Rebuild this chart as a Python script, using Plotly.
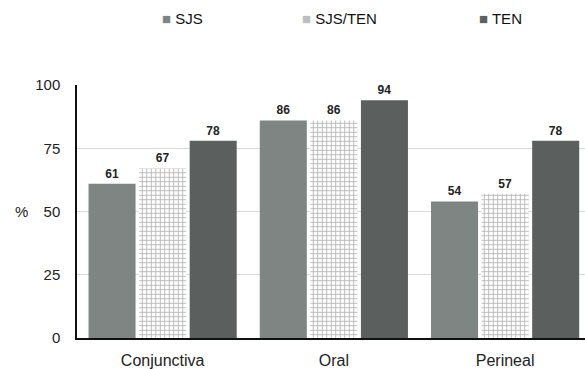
import plotly.graph_objects as go

# Mucosal involvement by diagnosis (%)
categories = ["Conjunctiva", "Oral", "Perineal"]
series_names = ["SJS", "SJS/TEN", "TEN"]
sjs = [61, 86, 54]
sjs_ten = [67, 86, 57]
ten = [78, 94, 78]
y_ticks = [0, 25, 50, 75, 100]

FONT = "Liberation Sans, Arial, sans-serif"
colors = ["#7f8582", "#ffffff", "#5b5f5d"]
legend_colors = ["#7f8582", "#bdbdbd", "#5b5f5d"]

fig = go.Figure()
for name, vals, col in zip(series_names, [sjs, sjs_ten, ten], colors):
    marker = dict(color=col, line=dict(width=0))
    if name == "SJS/TEN":
        marker["pattern"] = dict(shape="+", size=4.5, solidity=0.35,
                                 fgcolor="#b4b4b4", bgcolor="#ffffff",
                                 fillmode="replace")
    fig.add_trace(go.Bar(
        x=categories, y=vals, name=name, marker=marker,
        text=vals, textposition="outside", cliponaxis=False,
        textfont=dict(family=FONT, size=12, color="#222222", weight="bold"),
        showlegend=False,
    ))

# Legend row drawn as text entries with a coloured square
legend_x = [0.163, 0.439, 0.787]
for name, col, lx in zip(series_names, legend_colors, legend_x):
    fig.add_annotation(
        xref="paper", yref="paper", x=lx, y=1.263,
        xanchor="left", yanchor="middle", showarrow=False,
        text=f"<span style='color:{col}'>■</span> {name}",
        font=dict(family=FONT, size=15, color="#111111"),
    )

# Axis title set horizontally beside the value ticks
fig.add_annotation(
    xref="paper", yref="paper", x=-0.11, y=0.5,
    xanchor="center", yanchor="middle", showarrow=False,
    text="%", font=dict(family=FONT, size=15, color="#222222"),
)

fig.update_layout(
    width=585, height=369,
    margin=dict(l=77, r=0, t=85, b=28),
    paper_bgcolor="white", plot_bgcolor="white",
    barmode="group", bargap=0.114, bargroupgap=0.07,
    showlegend=False,
    font=dict(family=FONT, size=15, color="#222222"),
)
fig.update_xaxes(
    range=[-0.5, 2.4665], showline=True, linecolor="#111111", linewidth=1.5,
    ticks="", showgrid=False, ticklabelstandoff=7,
    tickfont=dict(family=FONT, size=16, color="#222222"),
)
fig.update_yaxes(
    range=[0, 100], tickvals=y_ticks, showline=True, linecolor="#111111",
    linewidth=1.5, showgrid=True, gridcolor="#d9d9d9", gridwidth=1,
    zeroline=False, ticks="", ticklabelstandoff=12,
    tickfont=dict(family=FONT, size=15, color="#222222"),
)

fig.write_html("out.html")
